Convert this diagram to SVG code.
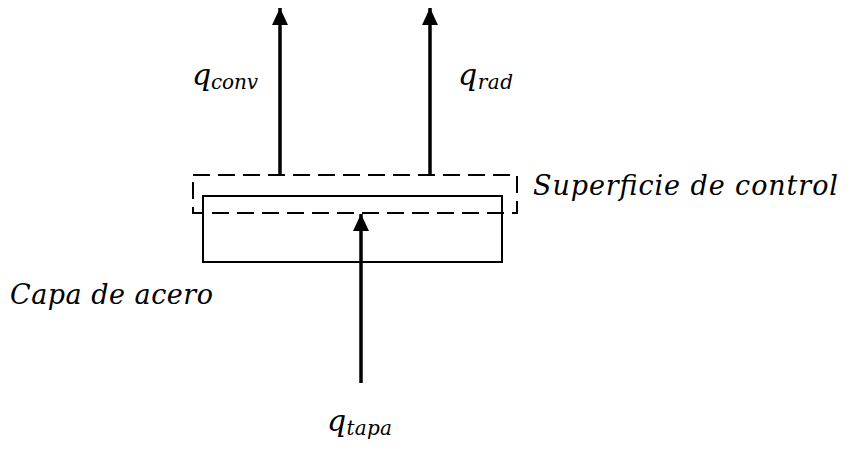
<svg xmlns="http://www.w3.org/2000/svg" width="849" height="450" viewBox="0 0 849 450">
<style>
.t{font-family:"DejaVu Serif","Liberation Serif",serif;font-style:italic;fill:#000}
.q{font-size:30px}
.s{font-size:20px}
.l{font-size:27px}
.arr{stroke:#000;stroke-width:3.5;fill:none}
</style>
<defs>
<marker id="ah" markerUnits="userSpaceOnUse" markerWidth="17" markerHeight="18" refX="17" refY="8" orient="auto">
<path d="M0,0 L17,8 L0,16 Z" fill="#000"/>
</marker>
</defs>
<rect width="849" height="450" fill="#fff"/>
<g id="capa">
<rect x="203" y="196" width="299" height="66" fill="none" stroke="#000" stroke-width="2"/>
</g>
<g id="superficie">
<rect x="193" y="175" width="324" height="38" fill="none" stroke="#000" stroke-width="2" stroke-dasharray="17,8"/>
</g>
<g id="connectors">
<line class="arr" x1="280" y1="174" x2="280" y2="8" marker-end="url(#ah)"/>
<line class="arr" x1="430" y1="174" x2="430" y2="8" marker-end="url(#ah)"/>
<line class="arr" x1="361" y1="383" x2="361" y2="214" marker-end="url(#ah)"/>
</g>
<g id="labels">
<text class="t q" x="192" y="85" textLength="66" lengthAdjust="spacing">q<tspan class="s" dy="4">conv</tspan></text>
<text class="t q" x="458" y="85" textLength="55" lengthAdjust="spacing">q<tspan class="s" dy="4">rad</tspan></text>
<text class="t l" x="533" y="195" textLength="305" lengthAdjust="spacing">Superficie de control</text>
<text class="t l" x="10" y="304" textLength="203" lengthAdjust="spacing">Capa de acero</text>
<text class="t q" x="327" y="431" textLength="65" lengthAdjust="spacing">q<tspan class="s" dy="4">tapa</tspan></text>
</g>
</svg>
